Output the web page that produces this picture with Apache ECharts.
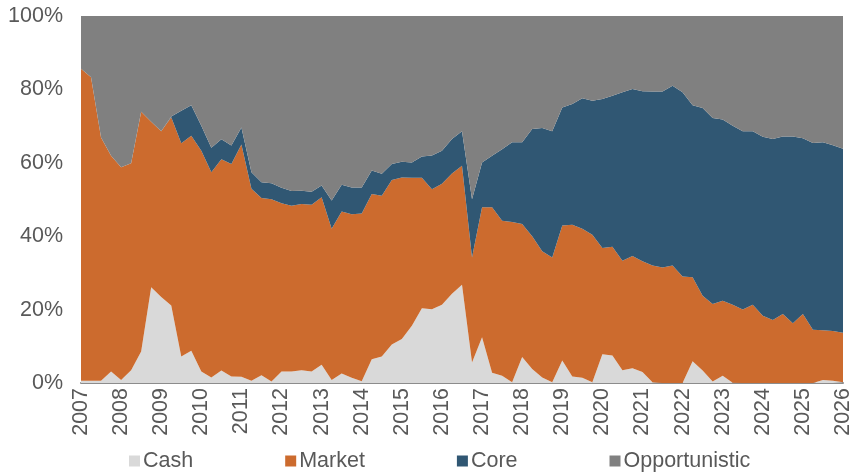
<!DOCTYPE html>
<html>
<head>
<meta charset="utf-8">
<script src="https://cdn.jsdelivr.net/npm/echarts@6/dist/echarts.min.js"></script>
<style>
    html, body { margin: 0; padding: 0; background: #fff; }
    #chart { width: 854px; height: 475px; }
</style>
</head>
<body>
<div id="chart"></div>
<script>
    // 年份刻度 (每季度一个点, 2007 Q1 - 2026 Q1)
    var years = ['2007', '2008', '2009', '2010', '2011', '2012', '2013', '2014', '2015', '2016',
        '2017', '2018', '2019', '2020', '2021', '2022', '2023', '2024', '2025', '2026'];

    // 各类占比 (%)
    var cash = [0.6, 0.6, 0.6, 3.1, 0.8, 3.5, 8.6, 26.1, 23.4, 21.1,
        7.2, 8.8, 3.1, 1.5, 3.4, 1.8, 1.7, 0.6, 2.1, 0.4,
        3.1, 3.1, 3.5, 3.1, 5.0, 0.8, 2.6, 1.4, 0.5, 6.5,
        7.2, 10.5, 12.0, 15.6, 20.4, 20.1, 21.3, 24.3, 26.8, 5.6,
        12.5, 2.8, 2.0, 0.2, 7.1, 3.8, 1.5, 0.2, 6.1, 1.8,
        1.4, 0.2, 7.8, 7.5, 3.5, 4.0, 3.0, 0.2, 0, 0,
        0, 5.9, 3.4, 0.4, 2.0, 0.1, 0, 0, 0, 0,
        0, 0, 0, 0, 0.8, 0.6, 0.2];

    var market = [85.0, 82.7, 66.3, 58.8, 58.0, 56.4, 65.3, 45.1, 45.2, 51.3,
        58.1, 58.6, 60.2, 55.9, 57.6, 57.9, 63.3, 52.3, 48.3, 49.7,
        45.9, 45.2, 45.3, 45.5, 45.6, 41.2, 44.1, 44.6, 45.7, 45.0,
        43.8, 44.8, 44.0, 40.3, 35.5, 32.7, 33.0, 32.8, 32.4, 28.6,
        35.4, 45.1, 42.2, 43.7, 36.2, 36.2, 34.4, 34.0, 36.8, 41.3,
        40.6, 40.2, 29.0, 29.6, 29.8, 30.6, 30.2, 31.8, 31.5, 32.0,
        29.0, 22.9, 20.4, 21.1, 20.4, 21.2, 20.0, 21.3, 18.3, 17.2,
        18.8, 16.3, 18.8, 14.5, 13.6, 13.6, 13.5];

    var core = [0, 0, 0, 0, 0, 0, 0, 0, 0, 0.2,
        8.9, 8.3, 6.8, 6.7, 5.4, 5.0, 4.6, 4.5, 4.3, 4.3,
        4.2, 4.0, 3.6, 3.5, 3.2, 7.7, 7.3, 7.3, 7.1, 6.4,
        6.0, 4.4, 4.3, 4.2, 5.8, 9.2, 9.0, 9.4, 9.4, 15.9,
        12.2, 14.0, 19.5, 21.7, 22.3, 29.2, 33.6, 34.4, 32.2, 32.9,
        35.6, 36.5, 40.6, 41.2, 45.9, 45.5, 46.3, 47.4, 47.9, 49.0,
        50.2, 46.9, 51.1, 50.7, 49.4, 48.8, 48.6, 47.3, 48.8, 49.3,
        48.4, 50.9, 47.9, 50.9, 51.2, 50.6, 50.1];

    var opportunistic = [14.4, 16.7, 33.1, 38.1, 41.2, 40.1, 26.1, 28.8, 31.4, 27.4,
        25.8, 24.3, 29.9, 35.9, 33.6, 35.3, 30.4, 42.6, 45.3, 45.6,
        46.8, 47.7, 47.6, 47.9, 46.2, 50.3, 46.0, 46.7, 46.7, 42.1,
        43.0, 40.3, 39.7, 39.9, 38.3, 38.0, 36.7, 33.5, 31.4, 49.9,
        39.9, 38.1, 36.3, 34.4, 34.4, 30.8, 30.5, 31.4, 24.9, 24.0,
        22.4, 23.1, 22.6, 21.7, 20.8, 19.9, 20.5, 20.6, 20.6, 19.0,
        20.8, 24.3, 25.1, 27.8, 28.2, 29.9, 31.4, 31.4, 32.9, 33.5,
        32.8, 32.8, 33.3, 34.6, 34.4, 35.2, 36.2];

    // 季度类目
    var quarters = [];
    years.forEach(function (y, i) {
        var n = i == years.length - 1 ? 1 : 4;
        for (var q = 1; q <= n; q++) {
            quarters.push(y + ' Q' + q);
        }
    });

    var textColor = '#595959';
    var font = 'Liberation Sans, Arial, sans-serif';

    function areaSeries(name, data, color) {
        return {
            name: name,
            type: 'line',
            stack: 'total',
            data: data,
            symbol: 'none',
            lineStyle: { width: 0 },
            areaStyle: { color: color, opacity: 1 },
            itemStyle: { color: color }
        };
    }

    var myChart = echarts.init(document.getElementById('chart'));

    var option = {
        animation: false,
        textStyle: { fontFamily: font },
        grid: { left: 81, right: 9, top: 16, bottom: 92 },
        legend: {
            left: 124,
            bottom: -2,
            icon: 'rect',
            itemWidth: 11,
            itemHeight: 11,
            itemGap: 92,
            textStyle: { color: textColor, fontSize: 21.5, fontFamily: font, padding: [0, 0, 0, -2] },
            data: ['Cash', 'Market', 'Core', 'Opportunistic']
        },
        xAxis: {
            type: 'category',
            boundaryGap: false,
            data: quarters,
            axisLine: { lineStyle: { color: '#8c8c8c', width: 2 } },
            axisTick: { show: false },
            axisLabel: {
                interval: 3,
                rotate: 90,
                margin: 5,
                color: textColor,
                fontSize: 21.5,
                formatter: function (v) { return v.slice(0, 4); }
            }
        },
        yAxis: {
            type: 'value',
            min: 0,
            max: 100,
            interval: 20,
            axisLine: { show: false },
            axisTick: { show: false },
            splitLine: { show: false },
            axisLabel: { color: textColor, fontSize: 21.5, margin: 18, formatter: '{value}%' }
        },
        series: [
            areaSeries('Cash', cash, '#d9d9d9'),
            areaSeries('Market', market, '#cc6b2e'),
            areaSeries('Core', core, '#305773'),
            areaSeries('Opportunistic', opportunistic, '#808080')
        ]
    };

    myChart.setOption(option);
</script>
</body>
</html>
